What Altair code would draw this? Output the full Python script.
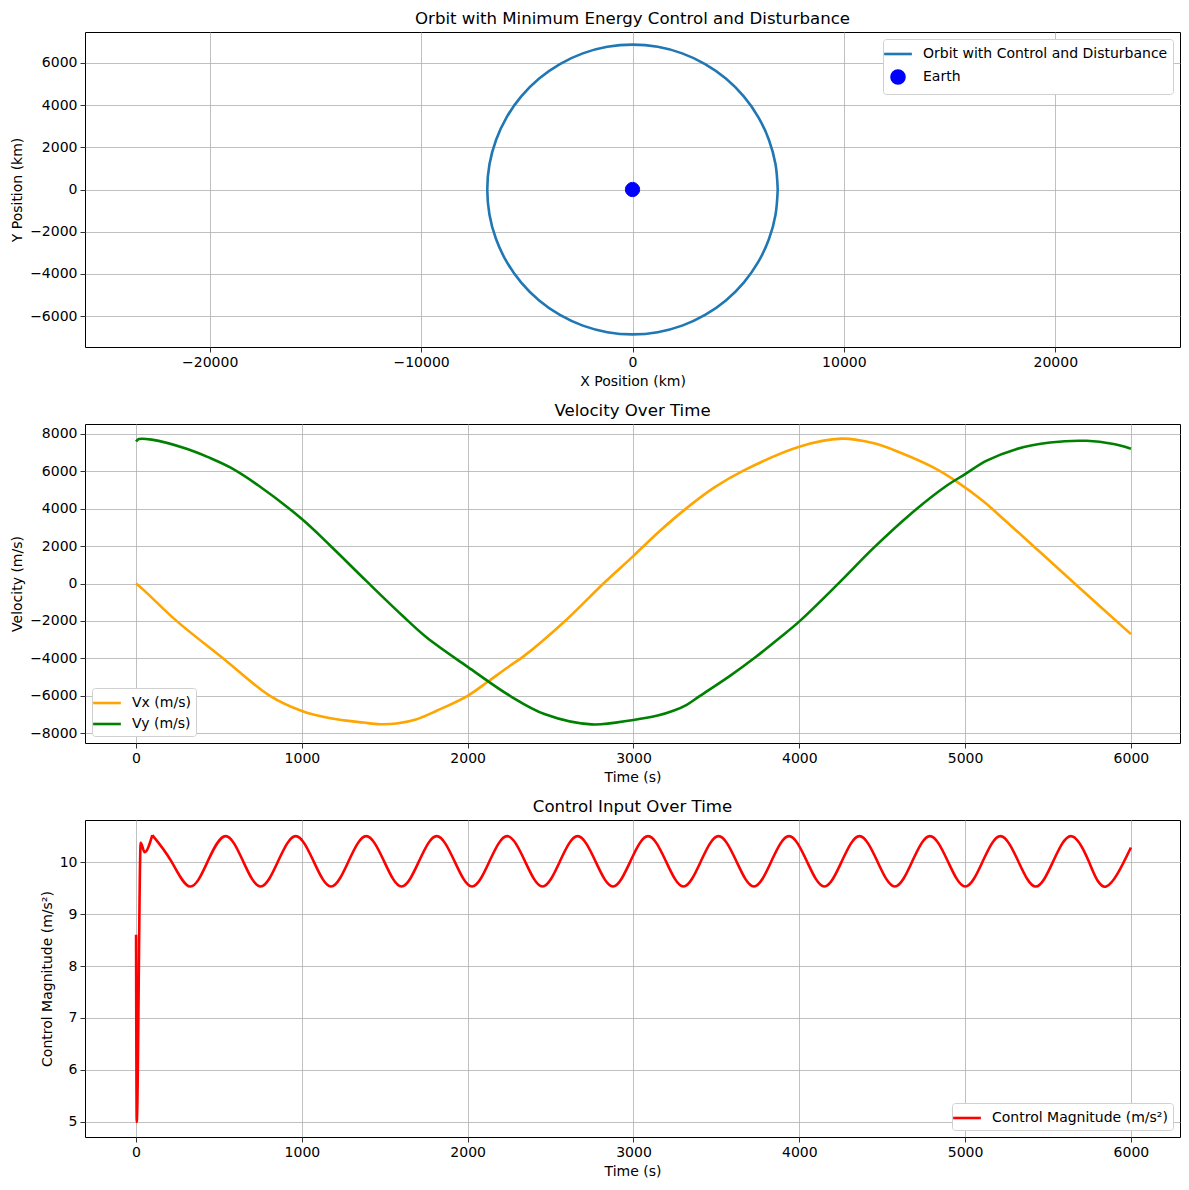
import altair as alt
import pandas as pd

ORBIT_LABEL = "Orbit with Control and Disturbance"
EARTH_LABEL = "Earth"

# orbit track (km), counter-clockwise from (r, 0)
orbit_x = [6870, 6766, 6456, 5950, 5263, 4416, 3435, 2350, 1193, 0,
           -1193, -2350, -3435, -4416, -5263, -5950, -6456, -6766, -6870,
           -6766, -6456, -5950, -5263, -4416, -3435, -2350, -1193, 0,
           1193, 2350, 3435, 4416, 5263, 5950, 6456, 6766, 6870]
orbit_y = [0, 1193, 2350, 3435, 4416, 5263, 5950, 6456, 6766, 6870,
           6766, 6456, 5950, 5263, 4416, 3435, 2350, 1193, 0,
           -1193, -2350, -3435, -4416, -5263, -5950, -6456, -6766, -6870,
           -6766, -6456, -5950, -5263, -4416, -3435, -2350, -1193, 0]
earth_x = [0]
earth_y = [0]

# velocity components (m/s)
vx_t = [0, 50, 244, 524, 805, 1000, 1172, 1371, 1471, 1571, 1693, 1813, 2000, 2115,
        2255, 2337, 2594, 2819, 3000, 3160, 3313, 3488, 3663, 4000, 4254, 4451, 4607,
        4808, 4958, 5110, 5250, 5431, 5654, 6000]
vx_v = [0, -380, -2000, -4000, -6000, -6820, -7210, -7440, -7530, -7490, -7260,
        -6810, -6010, -5300, -4400, -3900, -1950, 0, 1480, 2820, 3980, 5140, 6040,
        7320, 7750, 7500, 7010, 6210, 5400, 4400, 3300, 1850, 50, -2710]
vy_t = [0, 17, 93, 309, 438, 568, 740, 1000, 1172, 1388, 1604, 1753, 2000, 2255,
        2467, 2748, 3000, 3140, 3240, 3321, 3401, 3582, 3733, 3884, 4004, 4232, 4451,
        4670, 4888, 5000, 5127, 5308, 5512, 5733, 5895, 6000]
vy_v = [7600, 7730, 7700, 7200, 6750, 6210, 5230, 3450, 2020, 140, -1700, -2890,
        -4460, -6010, -7000, -7540, -7300, -7080, -6810, -6490, -6010, -4940, -3960,
        -2890, -2000, -36, 1930, 3710, 5230, 5850, 6560, 7190, 7545, 7635, 7460, 7210]

# control magnitude (m/s^2): start-up transient ...
ctrl_start_t = [0, 4, 28, 52, 98]
ctrl_start_v = [8.6, 5.0, 10.37, 10.19, 10.52]
# ... then the steady wobble: peaks, troughs and the crossings between them
ctrl_t = [98, 212, 326, 433, 540, 645, 751, 857, 963, 1070, 1176, 1282,
          1388, 1495, 1601, 1707, 1813, 1920, 2026, 2132, 2238, 2345, 2451, 2557,
          2663, 2770, 2876, 2982, 3088, 3195, 3301, 3407, 3513, 3620, 3726, 3832,
          3938, 4045, 4151, 4257, 4363, 4470, 4576, 4682, 4788, 4895, 5001, 5107,
          5213, 5320, 5426, 5532, 5638, 5745, 5851, 6000]
ctrl_v = [10.52, 10.02, 9.53, 10.02, 10.5, 10.02, 9.53, 10.02,
          10.5, 10.02, 9.53, 10.02, 10.5, 10.02, 9.53, 10.02, 10.5, 10.02, 9.53,
          10.02, 10.5, 10.02, 9.53, 10.02, 10.5, 10.02, 9.53, 10.02, 10.5, 10.02,
          9.53, 10.02, 10.5, 10.02, 9.53, 10.02, 10.5, 10.02, 9.53, 10.02, 10.5,
          10.02, 9.53, 10.02, 10.5, 10.02, 9.53, 10.02, 10.5, 10.02, 9.53, 10.02,
          10.5, 10.02, 9.53, 10.28]

LINE_SYMBOL = "M-1.6,0H1.6"
DOT_SYMBOL = "M0.75,0A0.75,0.75,0,1,1,-0.75,0A0.75,0.75,0,1,1,0.75,0Z"
W = 1095
FS = 14


def legend(orient):
    return alt.Legend(
        title=None, orient=orient, offset=7, padding=5, cornerRadius=3,
        strokeColor="#d0d0d0", fillColor="white", labelFontSize=FS,
        labelColor="black", symbolType=LINE_SYMBOL, symbolSize=300,
        symbolStrokeWidth=2.6, labelOffset=15, rowPadding=4, labelLimit=0,
    )


def panel_title(text):
    return alt.TitleParams(text, fontSize=16.6, fontWeight="normal", offset=4)


orbit_df = pd.DataFrame({"i": range(len(orbit_x)), "x": orbit_x, "y": orbit_y})
earth_df = pd.DataFrame({"x": earth_x, "y": earth_y, "body": EARTH_LABEL})

body_domain = [ORBIT_LABEL, EARTH_LABEL]
body_colors = ["#1f77b4", "blue"]
ox = alt.X("x:Q", title="X Position (km)",
           scale=alt.Scale(domain=[-25900, 25900], nice=False, zero=False),
           axis=alt.Axis(values=[-20000, -10000, 0, 10000, 20000]))
oy = alt.Y("y:Q", title="Y Position (km)",
           scale=alt.Scale(domain=[-7470, 7470], nice=False, zero=False),
           axis=alt.Axis(values=[-6000, -4000, -2000, 0, 2000, 4000, 6000]))

orbit_line = alt.Chart(orbit_df).mark_line(
    color="#1f77b4", strokeWidth=2.6, interpolate="catmull-rom"
).encode(x=ox, y=oy, order="i:Q")
earth_dot = alt.Chart(earth_df).mark_point(filled=True, size=360, opacity=1, strokeWidth=1).encode(
    x=ox, y=oy,
    color=alt.Color("body:N", scale=alt.Scale(domain=body_domain, range=body_colors),
                    legend=legend("top-right")),
    stroke=alt.Stroke("body:N", scale=alt.Scale(domain=body_domain, range=body_colors),
                      legend=legend("top-right")),
    shape=alt.Shape("body:N", scale=alt.Scale(domain=body_domain, range=[LINE_SYMBOL, DOT_SYMBOL]),
                    legend=legend("top-right")),
)
orbit_chart = alt.layer(orbit_line, earth_dot).properties(
    width=W, height=315, title=panel_title("Orbit with Minimum Energy Control and Disturbance"))

vel_df = pd.concat([
    pd.DataFrame({"t": vx_t, "v": vx_v, "component": "Vx (m/s)"}),
    pd.DataFrame({"t": vy_t, "v": vy_v, "component": "Vy (m/s)"}),
])
time_x = alt.X("t:Q", title="Time (s)",
               scale=alt.Scale(domain=[-308, 6296], nice=False, zero=False),
               axis=alt.Axis(values=[0, 1000, 2000, 3000, 4000, 5000, 6000]))

vel_chart = alt.Chart(vel_df).mark_line(strokeWidth=2.6, interpolate="catmull-rom").encode(
    x=time_x,
    y=alt.Y("v:Q", title="Velocity (m/s)",
            scale=alt.Scale(domain=[-8535, 8535], nice=False, zero=False),
            axis=alt.Axis(values=list(range(-8000, 8001, 2000)))),
    color=alt.Color("component:N",
                    scale=alt.Scale(domain=["Vx (m/s)", "Vy (m/s)"], range=["orange", "green"]),
                    legend=legend("bottom-left")),
).properties(width=W, height=319, title=panel_title("Velocity Over Time"))

CTRL_LABEL = "Control Magnitude (m/s²)"
ctrl_start_df = pd.DataFrame({"t": ctrl_start_t, "u": ctrl_start_v, "signal": CTRL_LABEL})
ctrl_df = pd.DataFrame({"t": ctrl_t, "u": ctrl_v, "signal": CTRL_LABEL})
ctrl_y = alt.Y("u:Q", title=CTRL_LABEL,
               scale=alt.Scale(domain=[4.71, 10.81], nice=False, zero=False),
               axis=alt.Axis(values=[5, 6, 7, 8, 9, 10]))
ctrl_color = alt.Color("signal:N", scale=alt.Scale(domain=[CTRL_LABEL], range=["red"]),
                       legend=legend("bottom-right"))
ctrl_chart = alt.layer(
    alt.Chart(ctrl_start_df).mark_line(strokeWidth=2.6, interpolate="monotone").encode(
        x=time_x, y=ctrl_y, color=ctrl_color),
    alt.Chart(ctrl_df).mark_line(strokeWidth=2.6, interpolate="natural").encode(
        x=time_x, y=ctrl_y, color=ctrl_color),
).properties(width=W, height=317, title=panel_title("Control Input Over Time"))

chart = (
    alt.vconcat(orbit_chart, vel_chart, ctrl_chart, spacing=13)
    .resolve_scale(color="independent", stroke="independent", shape="independent")
    .configure(font="DejaVu Sans", padding={"left": 2, "top": 2, "right": 0, "bottom": 0})
    .configure_view(stroke="black", strokeWidth=1)
    .configure_axis(
        domain=False, grid=True, gridColor="#b0b0b0", gridWidth=0.8,
        tickColor="black", tickSize=5, tickWidth=0.8, labelPadding=3,
        labelFontSize=FS, titleFontSize=FS, labelColor="black", titleColor="black",
        titleFontWeight="normal", titlePadding=5, format="d",
    )
)

chart.save("out.html", embed_options={"renderer": "svg", "actions": False})
